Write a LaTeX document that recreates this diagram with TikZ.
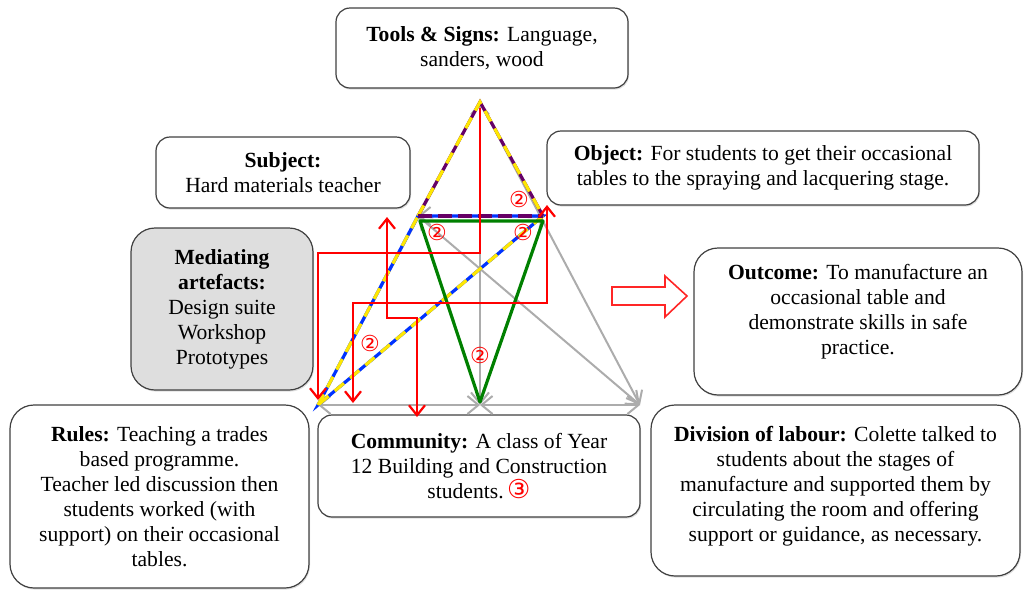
\documentclass[tikz,border=0pt]{standalone}
\usepackage{fontspec}
\setmainfont{Liberation Serif}
\newfontfamily\circfont{DejaVu Sans}
\usetikzlibrary{arrows.meta,shadows}

\begin{document}
\begin{tikzpicture}[x=0.5pt,y=-0.5pt,
    box/.style={draw=black!75, line width=0.6pt, rounded corners=7pt,
      fill=white, align=center, inner sep=2pt,
      font=\fontsize{10.8}{12.5}\selectfont,
      drop shadow={shadow xshift=0.5pt, shadow yshift=-0.8pt, opacity=0.25}},
    link/.style={gray!65, line width=1pt,
      >={Straight Barb[length=5.5pt,width=9pt]}},
    flow/.style={red, line width=0.6pt,
      >={Straight Barb[length=5pt,width=8pt,line width=1.1pt]}},
    num/.style={text=red, inner sep=0pt, font=\circfont\fontsize{11}{11}\selectfont}]
    \useasboundingbox (0,0) rectangle (1024,590);

    % boxes
    \node[box, minimum width=146pt, minimum height=40pt] (tools) at (482,48)
      {\textbf{Tools \& Signs:} Language,\\ sanders, wood};
    \node[box, minimum width=127pt, minimum height=35.5pt] (subject) at (283,172.5)
      {\textbf{Subject:}\\ Hard materials teacher};
    \node[box, minimum width=216pt, minimum height=37pt] (object) at (763,168)
      {\textbf{Object:} For students to get their occasional\\ tables to the spraying and lacquering stage.};
    \node[box, fill=black!13, rounded corners=12pt, minimum width=91pt, minimum height=81pt] (artefacts) at (222,309)
      {\textbf{Mediating}\\ \textbf{artefacts:}\\ Design suite\\ Workshop\\ Prototypes};
    \node[box, rounded corners=12pt, minimum width=164pt, minimum height=73.5pt] (outcome) at (858,321.5) {};
    \node[align=center, font=\fontsize{10.8}{12.5}\selectfont] (outtext) at (858,312)
      {\textbf{Outcome:} To manufacture an\\ occasional table and\\ demonstrate skills in safe\\ practice.};
    \node[box, rounded corners=12pt, minimum width=149.5pt, minimum height=91.5pt] (rules) at (159.5,496.5)
      {\textbf{Rules:} Teaching a trades\\ based programme.\\ Teacher led discussion then\\ students worked (with\\ support) on their occasional\\ tables.};
    \node[box, minimum width=161pt, minimum height=51pt] (community) at (479,466)
      {\textbf{Community:} A class of Year\\ 12 Building and Construction\\ students.\,{\color{red}\circfont\fontsize{13}{12.5}\selectfont ③}};
    \node[box, rounded corners=12pt, minimum width=184.5pt, minimum height=85.5pt] (division) at (835.5,490.5) {};
    \node[align=center, font=\fontsize{10.8}{12.5}\selectfont] (divtext) at (835.5,486)
      {\textbf{Division of labour:} Colette talked to\\ students about the stages of\\ manufacture and supported them by\\ circulating the room and offering\\ support or guidance, as necessary.};

    % triangle corners
    \coordinate (T) at (480,102);
    \coordinate (S) at (418,216);
    \coordinate (O) at (543,216);
    \coordinate (R) at (318,405);
    \coordinate (C) at (480,405);
    \coordinate (D) at (640,405);

    % grey triangle
    \draw[link] (T) -- (R);
    \draw[link,->] (T) -- (D);
    \draw[link,<->] (T) -- (C);
    \draw[link,<->] (R) -- (C);
    \draw[link,<->] (C) -- (D);
    \draw[link,<->] (S) -- (D);
    \draw[link,->] (R) -- (O);
    \draw[link,<-] (S) -- (O);

    % coloured triangles
    \draw[blue!80!cyan, line width=1.6pt] (R) -- (S) -- (O) -- cycle;
    \draw[yellow!90!orange, line width=1.6pt, dash pattern=on 6pt off 4pt] (R) -- (S) (O) -- (R);
    \draw[violet!80!black, line width=1.6pt] (S) -- (T) -- (O);
    \draw[yellow!90!orange, line width=1.6pt, dash pattern=on 6pt off 4pt] (S) -- (T) -- (O);
    \draw[violet!80!black, line width=1.6pt, dash pattern=on 7pt off 3pt] (S) -- (O);
    \coordinate (gS) at (420,221);
    \coordinate (gO) at (543,221);
    \coordinate (gC) at (480,402);
    \draw[green!50!black, line width=1.6pt, line join=round] (gS) -- (gO) -- (gC) -- cycle;

    % red flows
    \coordinate (tA) at (480,108);
    \coordinate (rA) at (318,400);
    \draw[flow,->] (tA) -- ++(0,145) -| (rA);
    \coordinate (cB) at (353,403);
    \coordinate (oB) at (547,205);
    \draw[flow,<->] (cB) -- ++(0,-100) -| (oB);
    \coordinate (sC) at (387,217);
    \coordinate (cC) at (417,417);
    \draw[flow, line width=1.1pt, <->] (sC) -- ++(0,101) -| (cC);

    % outcome arrow
    \draw[red!85, line width=0.8pt, fill=white] (612,287) -- (665,287) -- (665,276)
      -- (687,296) -- (665,317) -- (665,305) -- (612,305) -- cycle;

    % markers
    \node[num] (n1) at (519,199) {②};
    \node[num] (n2) at (437,232) {②};
    \node[num] (n3) at (523,232) {②};
    \node[num] (n4) at (370,343) {②};
    \node[num] (n5) at (480,355) {②};
  \end{tikzpicture}
\end{document}
